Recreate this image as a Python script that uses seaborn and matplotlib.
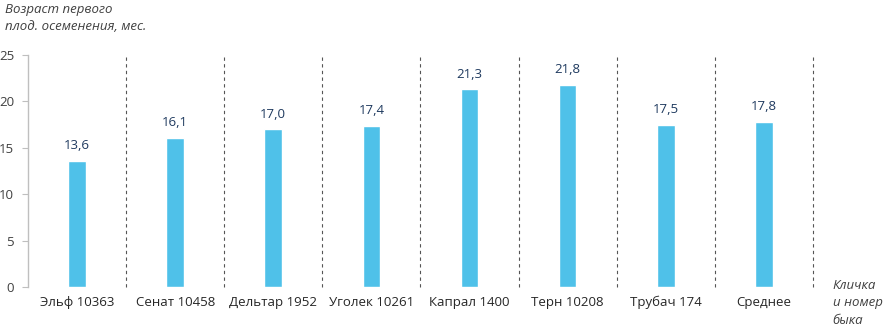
import matplotlib
matplotlib.use("Agg")
import matplotlib.pyplot as plt
import seaborn as sns
import pandas as pd

# ── Data ──────────────────────────────────────────────────────────────────────
bulls = ["Эльф 10363", "Сенат 10458", "Дельтар 1952", "Уголек 10261",
         "Капрал 1400", "Терн 10208", "Трубач 174", "Среднее"]
age = [13.6, 16.1, 17.0, 17.4, 21.3, 21.8, 17.5, 17.8]
y_ticks = [0, 5, 10, 15, 20, 25]

BAR_COLOR = "#4FC1E9"
LABEL_COLOR = "#1F3A5F"

sns.set_style("white")
plt.rcParams["font.family"] = ["Open Sans", "DejaVu Sans"]

df = pd.DataFrame({"bull": bulls, "age": age})

fig = plt.figure(figsize=(8.85, 3.3), dpi=100)
ax = fig.add_axes([0.0316, 0.1303, 0.887, 0.703])

sns.barplot(data=df, x="bull", y="age", color=BAR_COLOR, width=0.18,
            saturation=1, ax=ax)

ax.bar_label(ax.containers[0], labels=[f"{v:.1f}".replace(".", ",") for v in age],
             padding=6, fontsize=9.5, color=LABEL_COLOR)

# dashed separators between categories
for i in range(len(bulls)):
    ax.axvline(i + 0.5, color="#555555", linestyle=(0, (3, 3)), linewidth=0.8,
               clip_on=False)

ax.set_xlim(-0.5, len(bulls) - 0.5)
ax.set_ylim(0, 25)
ax.set_yticks(y_ticks)
ax.set_yticklabels([str(t) for t in y_ticks])
ax.set_xlabel("")
ax.set_ylabel("")

for s in ["top", "right", "bottom"]:
    ax.spines[s].set_visible(False)
ax.spines["left"].set_color("#BFBFBF")
ax.spines["left"].set_linewidth(1.0)
ax.tick_params(axis="y", left=True, length=4, color="#BFBFBF", labelsize=9.5,
               labelcolor="#404040", pad=6)
ax.tick_params(axis="x", bottom=False, labelsize=9.5, labelcolor="#262626", pad=3)

fig.text(0.006, 0.99, "Возраст первого\nплод. осеменения, мес.", ha="left", va="top",
         fontsize=9.5, style="italic", color="#404040", linespacing=1.35)
fig.text(0.941, 0.155, "Кличка\nи номер\nбыка", ha="left", va="top",
         fontsize=9.5, style="italic", color="#404040", linespacing=1.45)

plt.savefig("out.png", dpi=100)
plt.close()
